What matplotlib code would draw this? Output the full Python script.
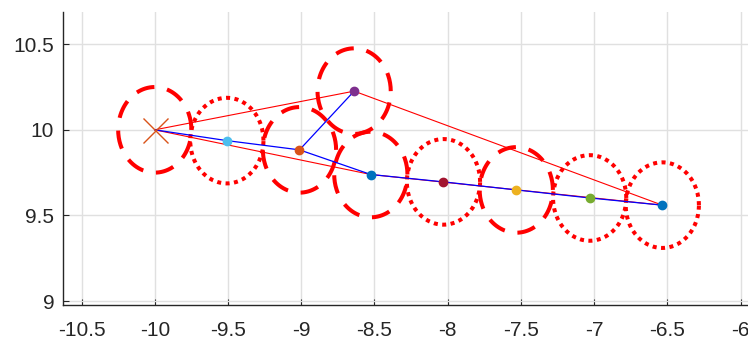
import numpy as np
import matplotlib.pyplot as plt

# Tree nodes (x, y)
node_x = [-10.0, -9.508, -9.012, -8.639, -8.525, -8.029, -7.532, -7.031, -6.535]
node_y = [10.0, 9.937, 9.883, 10.226, 9.739, 9.696, 9.649, 9.602, 9.560]
node_colors = ['#D95319', '#4DBEEE', '#D95319', '#7E2F8E', '#0072BD',
               '#A2142F', '#EDB120', '#77AC30', '#0072BD']
# safety radius and circle style for each node
radius = 0.25
circle_styles = ['dashed', 'dotted', 'dashed', 'dashed', 'dashed',
                 'dotted', 'dashed', 'dotted', 'dotted']

# tree edges (blue) and candidate paths (red), as node indices
tree_edges = [(0, 1), (1, 2), (2, 3), (2, 4), (4, 5), (5, 6), (6, 7), (7, 8)]
red_paths = [[0, 3, 8], [0, 4, 8]]

xticks = [-10.5, -10, -9.5, -9, -8.5, -8, -7.5, -7, -6.5, -6]
yticks = [9, 9.5, 10, 10.5]

plt.rcParams['font.family'] = ['Liberation Sans', 'DejaVu Sans']

fig = plt.figure(figsize=(7.48, 3.44), dpi=100)
ax = fig.add_axes([62.5 / 748, 1 - 305.3 / 344, 1 - 62.5 / 748, (305.3 - 11.7) / 344])

theta = np.linspace(0, 2 * np.pi, 200)
for cx, cy, st in zip(node_x, node_y, circle_styles):
    ls = (0, (4.6, 3.2)) if st == 'dashed' else (0, (1.0, 1.1))
    ax.plot(cx + radius * np.cos(theta), cy + radius * np.sin(theta),
            color='red', lw=2.9, linestyle=ls, zorder=2)

for path in red_paths:
    ax.plot([node_x[i] for i in path], [node_y[i] for i in path],
            color='red', lw=0.8, zorder=3)

for a, b in tree_edges:
    ax.plot([node_x[a], node_x[b]], [node_y[a], node_y[b]],
            color='blue', lw=0.9, zorder=4)

ax.plot(node_x[0], node_y[0], marker='x', color=node_colors[0],
        markersize=18, mew=1.0, linestyle='none', zorder=5)
for x, y, c in zip(node_x[1:], node_y[1:], node_colors[1:]):
    ax.plot(x, y, marker='o', color=c, markersize=6, linestyle='none', zorder=5)

ax.set_xlim(-10.63, -5.95)
ax.set_ylim(8.975, 10.69)
ax.set_xticks(xticks)
ax.set_yticks(yticks)
ax.set_xticklabels([f'{t:g}' for t in xticks])
ax.set_yticklabels([f'{t:g}' for t in yticks])

ax.grid(True, color='#e0e0e0', lw=1.0)
ax.set_axisbelow(True)
for s in ['top', 'right']:
    ax.spines[s].set_visible(False)
for s in ['left', 'bottom']:
    ax.spines[s].set_color('#262626')
    ax.spines[s].set_linewidth(1.0)
ax.tick_params(direction='in', length=4, width=0.8, colors='#262626',
               labelsize=15, pad=6)
ax.tick_params(axis='x', pad=11)

fig.savefig('out.png', dpi=100)
